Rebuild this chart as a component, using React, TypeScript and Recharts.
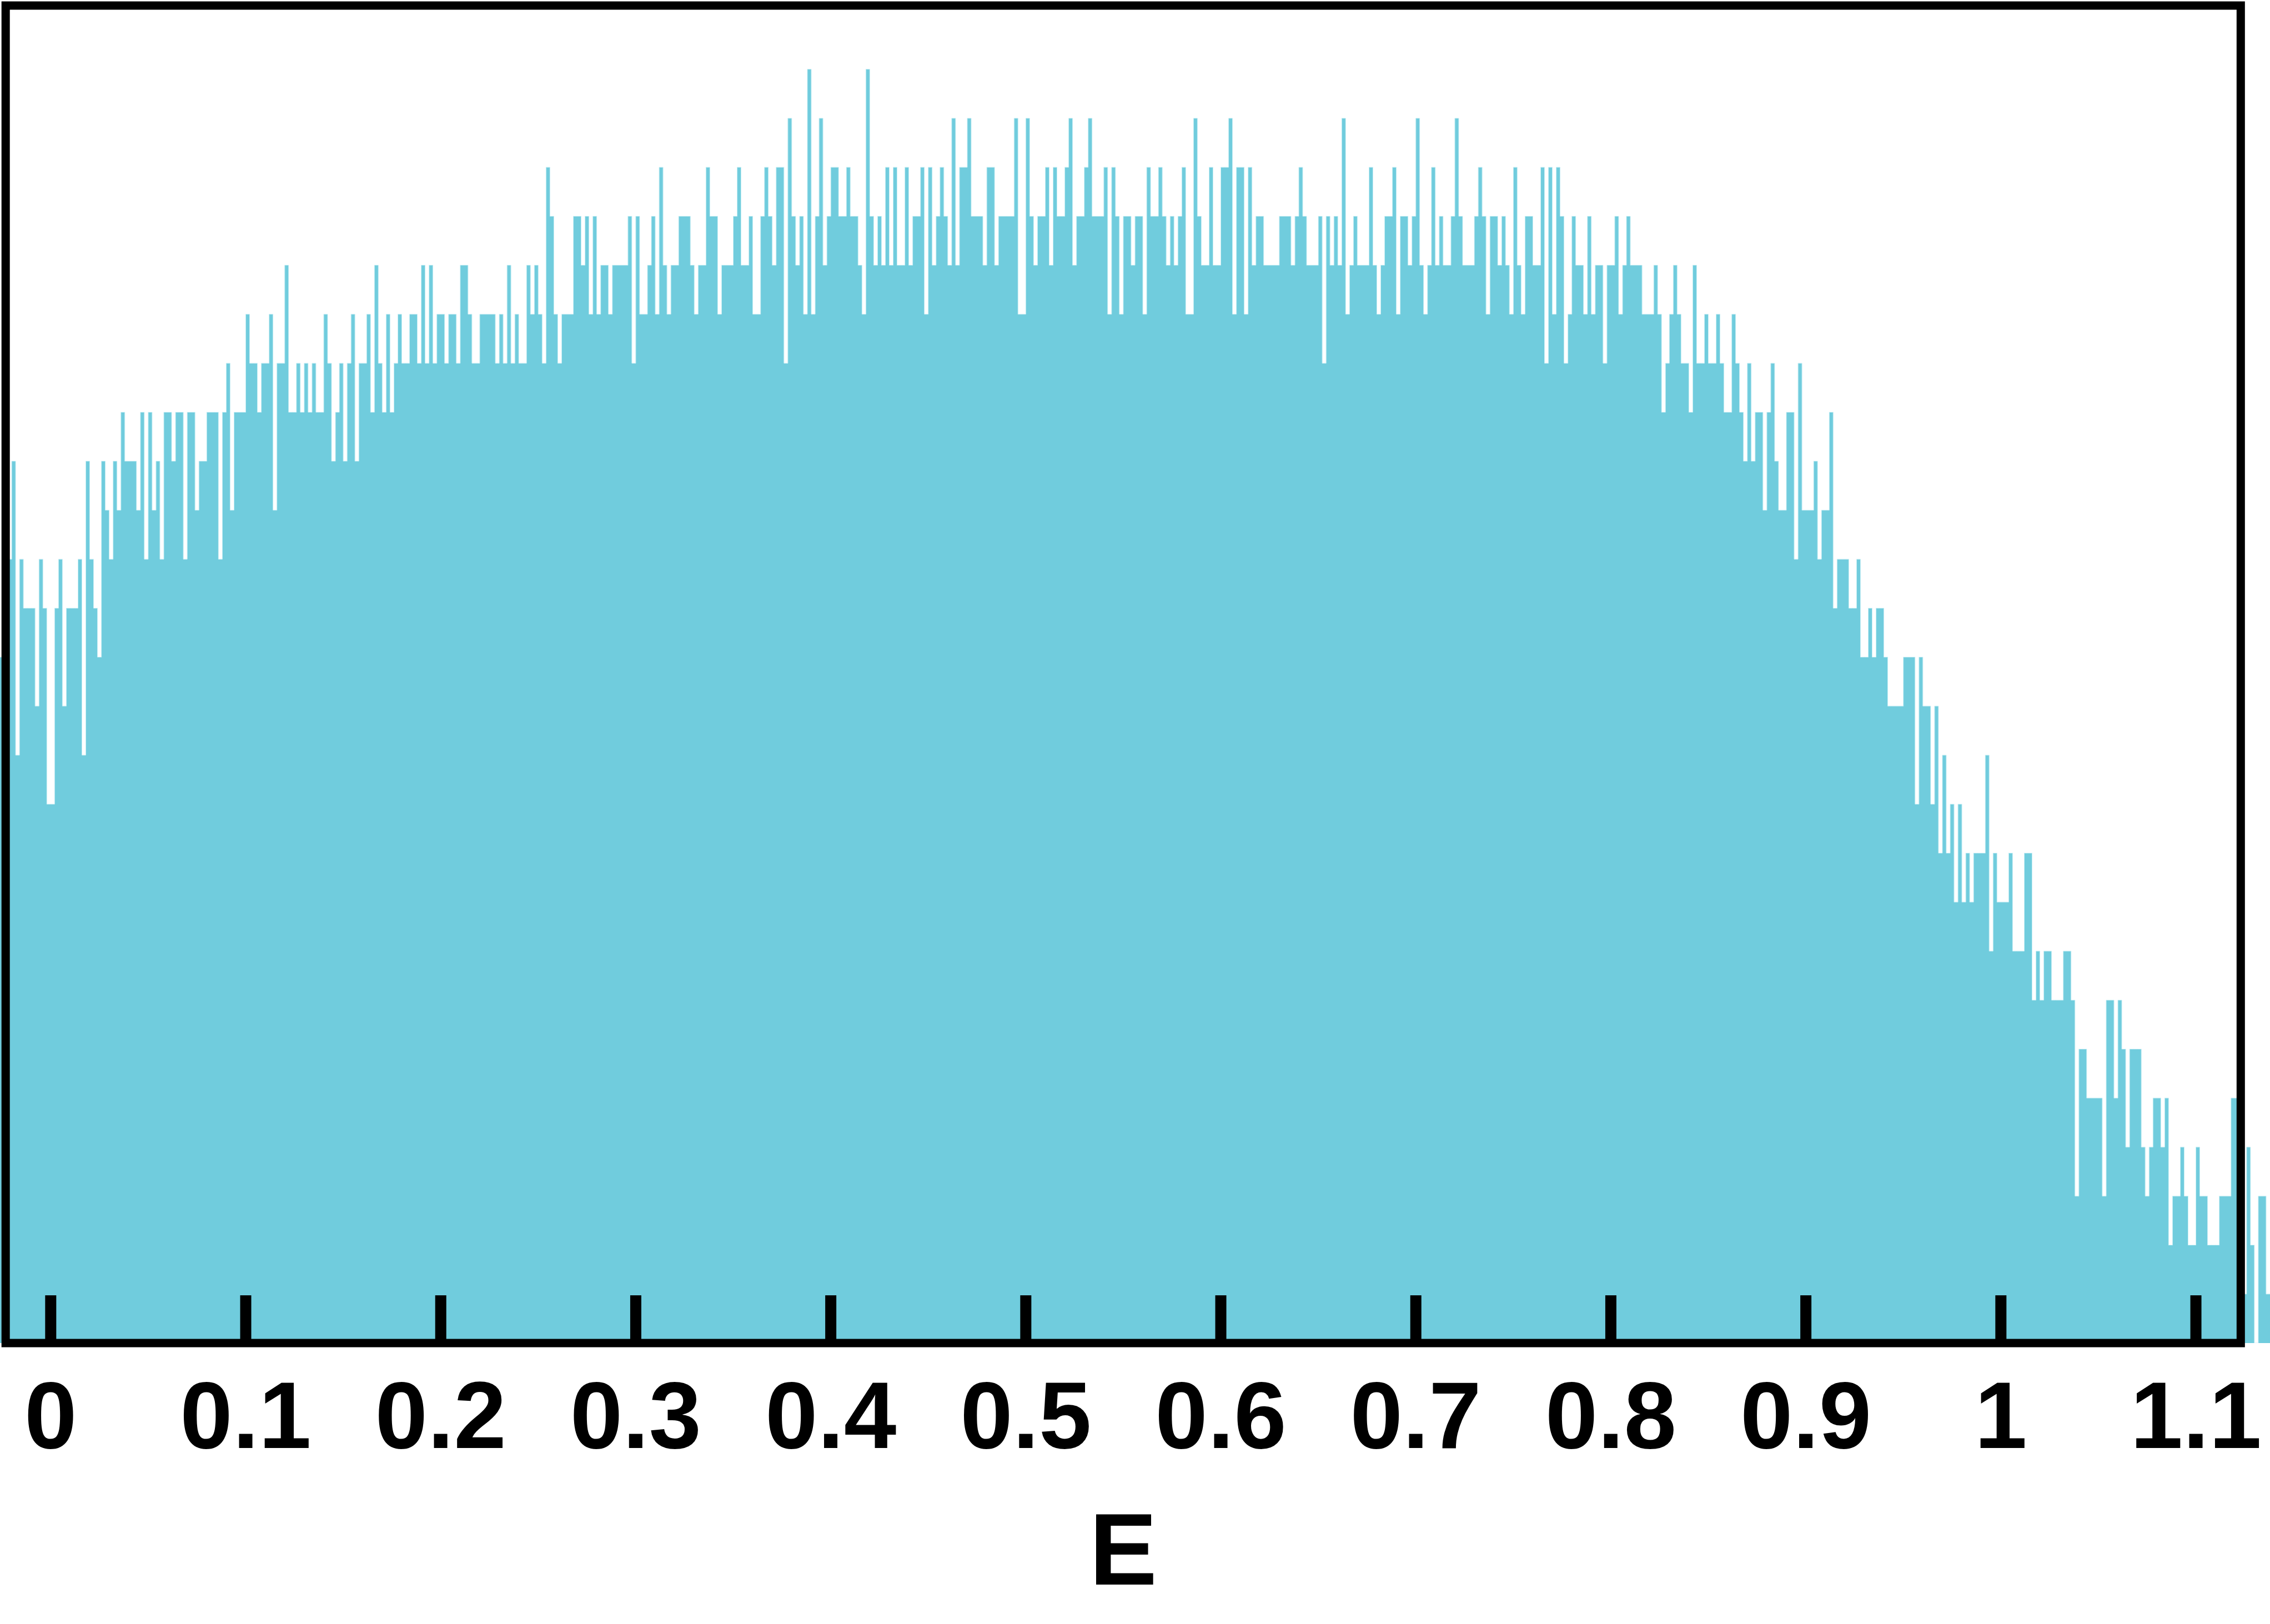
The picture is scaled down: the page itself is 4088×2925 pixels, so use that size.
import React from 'react';
import { ComposedChart, Area, XAxis, YAxis, ReferenceArea } from 'recharts';

// Histogram of E: bins of width 0.002, first bin starts at E = -0.026
const binStart = -0.026;
const binWidth = 0.002;

const counts: number[] = [
  14, 15, 16, 18, 12, 16, 15, 15, 15, 13, 16, 15, 11,
  11, 15, 16, 13, 15, 15, 15, 16, 12, 18,
  16, 15, 14, 18, 17, 16, 18, 17, 19, 18,
  18, 18, 17, 19, 16, 19, 17, 18, 16, 19,
  19, 18, 19, 19, 16, 19, 19, 17, 18, 18,
  19, 19, 19, 16, 19, 20, 17, 19, 19, 19,
  21, 20, 20, 19, 20, 20, 21, 17, 20, 20,
  22, 19, 19, 20, 19, 20, 19, 20, 19, 19,
  21, 20, 18, 19, 20, 18, 20, 21, 18, 20,
  20, 21, 19, 22, 20, 19, 21, 19, 20, 21,
  20, 20, 21, 21, 20, 22, 20, 22, 20, 21,
  21, 20, 21, 21, 20, 22, 22, 21, 20, 20,
  21, 21, 21, 21, 20, 21, 20, 22, 20, 21,
  20, 20, 22, 21, 22, 21, 20, 24, 23, 21,
  20, 21, 21, 21, 23, 23, 22, 23, 21, 23,
  21, 22, 22, 21, 22, 22, 22, 22, 23, 20,
  23, 21, 21, 22, 23, 21, 24, 22, 21, 22,
  22, 23, 23, 23, 22, 21, 22, 22, 24, 23,
  23, 21, 22, 22, 22, 23, 24, 22, 22, 23,
  21, 21, 23, 24, 23, 22, 24, 24, 20, 25,
  23, 22, 23, 21, 26, 21, 23, 25, 22, 23,
  24, 24, 23, 23, 24, 23, 23, 22, 21, 26,
  23, 22, 23, 22, 24, 22, 24, 22, 22, 24,
  22, 23, 23, 24, 21, 24, 22, 23, 24, 23,
  22, 25, 22, 24, 24, 25, 23, 23, 23, 22,
  24, 24, 22, 23, 23, 23, 23, 25, 21, 21,
  25, 23, 22, 23, 23, 24, 22, 24, 23, 23,
  24, 25, 22, 23, 23, 24, 25, 23, 23, 23,
  24, 21, 24, 23, 21, 23, 23, 22, 23, 23,
  21, 24, 23, 23, 24, 23, 22, 23, 22, 23,
  24, 21, 21, 25, 23, 22, 22, 24, 22, 22,
  24, 24, 25, 21, 24, 24, 21, 24, 22, 23,
  23, 22, 22, 22, 22, 23, 23, 23, 22, 23,
  24, 23, 22, 22, 22, 23, 20, 23, 22, 23,
  22, 25, 21, 22, 23, 22, 22, 22, 24, 22,
  21, 22, 23, 23, 24, 21, 23, 23, 22, 23,
  25, 22, 21, 22, 24, 22, 23, 22, 22, 23,
  25, 23, 22, 22, 22, 23, 24, 23, 21, 23,
  23, 22, 23, 22, 21, 24, 22, 21, 23, 23,
  22, 22, 24, 20, 24, 21, 24, 23, 20, 21,
  23, 22, 22, 21, 23, 21, 22, 22, 20, 22,
  22, 23, 21, 22, 23, 22, 22, 22, 21, 21,
  21, 22, 21, 19, 20, 21, 22, 21, 20, 20,
  19, 22, 20, 20, 21, 20, 20, 21, 20, 19,
  19, 21, 20, 19, 18, 20, 18, 19, 19, 17,
  19, 20, 18, 17, 17, 19, 19, 16, 20, 17,
  17, 17, 18, 16, 17, 17, 19, 15, 16, 16,
  16, 15, 15, 16, 14, 14, 15, 14, 15, 15,
  14, 13, 13, 13, 13, 14, 14, 14, 11, 14,
  13, 13, 11, 13, 10, 12, 10, 11, 9, 11,
  9, 10, 9, 10, 10, 10, 12, 8, 10, 9,
  9, 9, 10, 8, 8, 8, 10, 10, 7, 8,
  7, 8, 8, 7, 7, 7, 8, 8, 7, 3,
  6, 6, 5, 5, 5, 5, 3, 7, 7, 5,
  7, 6, 4, 6, 6, 6, 4, 3, 4, 5,
  5, 4, 5, 2, 3, 3, 4, 3, 2, 2,
  4, 3, 3, 2, 2, 2, 3, 3, 3, 5,
  5, 3, 1, 4, 2, 0, 3, 3, 1,
];

const tickValues = [0, 0.1, 0.2, 0.3, 0.4, 0.5, 0.6, 0.7, 0.8, 0.9, 1, 1.1];
const tickLabels = ['0', '0.1', '0.2', '0.3', '0.4', '0.5', '0.6', '0.7', '0.8', '0.9', '1', '1.1'];

const xDomain: [number, number] = [-0.026, 1.138];
const yDomain: [number, number] = [0, 27.3];
const frameX: [number, number] = [-0.0231, 1.123];

// step data: left edge of each bin, plus closing edge
const data = counts.map((c, i) => ({ x: binStart + i * binWidth, count: c }));
data.push({ x: binStart + counts.length * binWidth, count: counts[counts.length - 1] });

const FONT = '"Liberation Sans", Arial, Helvetica, sans-serif';

const Tick = (props: any) => {
  const { x, y, payload } = props;
  const idx = tickValues.findIndex((t) => Math.abs(t - payload.value) < 1e-9);
  const label = idx >= 0 ? tickLabels[idx] : String(payload.value);
  return (
    <g>
      <line x1={x} x2={x} y1={y} y2={y - 86} stroke="#000" strokeWidth={20} />
      <text
        x={x}
        y={y + 189}
        textAnchor="middle"
        fontSize={170}
        fontWeight="bold"
        fontFamily={FONT}
        fill="#000"
      >
        {label}
      </text>
    </g>
  );
};

export default function App() {
  return (
    <div style={{ position: 'absolute', left: 0, top: 0, width: 4088, height: 2925, background: '#fff' }}>
      <ComposedChart
        width={4088}
        height={2925}
        data={data}
        margin={{ top: 10, right: 0, bottom: 356, left: 0 }}
      >
        <YAxis hide type="number" domain={yDomain} allowDataOverflow />
        <Area
          type="stepAfter"
          dataKey="count"
          fill="#70CCDD"
          fillOpacity={1}
          stroke="#c9eef4"
          strokeWidth={1}
          dot={false}
          activeDot={false}
          isAnimationActive={false}
        />
        <ReferenceArea
          x1={frameX[0]}
          x2={frameX[1]}
          y1={yDomain[0]}
          y2={yDomain[1]}
          fill="none"
          fillOpacity={0}
          stroke="#000"
          strokeWidth={15}
          label={{
            value: 'E',
            position: 'bottom',
            offset: 305,
            fontSize: 183,
            fontWeight: 'bold',
            fontFamily: FONT,
            fill: '#000',
          }}
        />
        <XAxis
          type="number"
          dataKey="x"
          domain={xDomain}
          allowDataOverflow
          ticks={tickValues}
          interval={0}
          height={150}
          tickSize={0}
          tickMargin={0}
          axisLine={false}
          tickLine={false}
          tick={<Tick />}
        />
      </ComposedChart>
    </div>
  );
}
